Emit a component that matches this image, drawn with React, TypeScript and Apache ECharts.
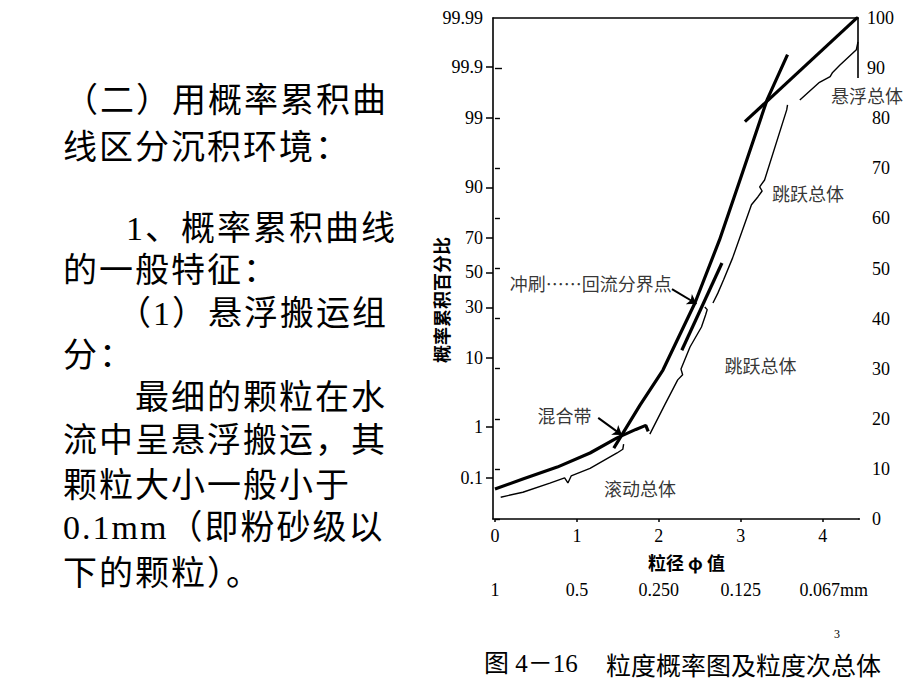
import React, { useEffect, useRef } from "react";
import * as echarts from "echarts";

// ---------- data ----------
const phiTicks = [0, 1, 2, 3, 4];
const mmLabels = ["1", "0.5", "0.250", "0.125", "0.067mm"];
const probTickLabels = ["0.1", "1", "10", "30", "50", "70", "90", "99", "99.9", "99.99"];
const rightLowerTicks = [0, 10, 20, 30, 40, 50, 60, 70, 80];
const rightUpperTicks = [90, 100];

// thick segments (phi, cumulative %)
const rollingPhi = [0.0, 0.34, 0.76, 1.16, 1.49, 1.72, 1.84, 1.87];
const rollingPct = [0.056, 0.094, 0.17, 0.33, 0.64, 0.91, 1.07, 0.84];
const saltationPhi = [1.45, 1.77, 2.05, 2.44, 2.74, 2.99, 3.32, 3.57];
const saltationPct = [0.41, 2.3, 7.1, 32.3, 68.8, 91.8, 99.53, 99.948];
const lowerSaltExtPhi = [2.28, 2.77];
const lowerSaltExtPct = [12.1, 55.7];
const suspensionPhi = [3.05, 4.43];
const suspensionPct = [98.84, 99.994];

// thin population braces
const rollingBracePhi = [0.07, 0.34, 0.67, 0.85, 0.89, 0.93, 1.16, 1.49, 1.56, 1.57];
const rollingBracePct = [0.036, 0.047, 0.076, 0.1, 0.077, 0.11, 0.16, 0.33, 0.39, 0.49];
const lowerSaltBracePhi = [1.89, 2.07, 2.23, 2.29, 2.27, 2.38, 2.52, 2.57, 2.59, 2.56];
const lowerSaltBracePct = [0.75, 2.3, 5.3, 6.2, 7.3, 13.1, 20.6, 26.1, 28.8, 30.2];
const upperSaltBracePhi = [2.66, 2.72, 2.79, 2.9, 3.13, 3.21, 3.26, 3.23, 3.29, 3.56, 3.57];
const upperSaltBracePct = [32.3, 37.8, 45.6, 58.7, 84.6, 87.3, 89.0, 90.1, 91.8, 99.28, 99.42];
const suspBracePhi = [3.72, 3.96, 4.09, 4.12, 4.21, 4.41, 4.43];
const suspBracePct = [99.53, 99.79, 99.84, 99.87, 99.91, 99.96, 99.974];

// arrows: [phiFrom, pctFrom, phiTo, pctTo]
const arrowBreak = [2.16, 40.1, 2.46, 31.9];
const arrowMix = [1.26, 1.43, 1.55, 0.72];

// annotation labels
const noteTexts = ["冲刷……回流分界点", "混合带", "滚动总体", "跳跃总体", "跳跃总体", "悬浮总体"];
const notePhi = [1.17, 0.85, 1.77, 3.24, 3.82, 4.54];
const notePct = [43.7, 1.58, 0.058, 8.2, 88.5, 99.63];

const leftLines = [
  "（二）用概率累积曲",
  "线区分沉积环境：",
  "1、概率累积曲线",
  "的一般特征：",
  "（1）悬浮搬运组",
  "分：",
  "最细的颗粒在水",
  "流中呈悬浮搬运，其",
  "颗粒大小一般小于",
  "0.1mm（即粉砂级以",
  "下的颗粒）。",
];
const leftX = [64, 63, 126, 63, 117, 63, 135, 63, 63, 63, 63];
const leftY = [100, 147, 228, 270, 313, 355, 397, 440, 485, 527, 573];

// ---------- helpers ----------
function probit(p: number): number {
  const a = [-3.969683028665376e1, 2.209460984245205e2, -2.759285104469687e2, 1.38357751867269e2, -3.066479806614716e1, 2.506628277459239];
  const b = [-5.447609879822406e1, 1.615858368580409e2, -1.556989798598866e2, 6.680131188771972e1, -1.328068155288572e1];
  const c = [-7.784894002430293e-3, -3.223964580411365e-1, -2.400758277161838, -2.549732539343734, 4.374664141464968, 2.938163982698783];
  const d = [7.784695709041462e-3, 3.224671290700398e-1, 2.445134137142996, 3.75440814571976];
  const pl = 0.02425;
  if (p < pl) {
    const q = Math.sqrt(-2 * Math.log(p));
    return (((((c[0] * q + c[1]) * q + c[2]) * q + c[3]) * q + c[4]) * q + c[5]) / ((((d[0] * q + d[1]) * q + d[2]) * q + d[3]) * q + 1);
  }
  if (p > 1 - pl) {
    const q = Math.sqrt(-2 * Math.log(1 - p));
    return -(((((c[0] * q + c[1]) * q + c[2]) * q + c[3]) * q + c[4]) * q + c[5]) / ((((d[0] * q + d[1]) * q + d[2]) * q + d[3]) * q + 1);
  }
  const q = p - 0.5;
  const r = q * q;
  return ((((((a[0] * r + a[1]) * r + a[2]) * r + a[3]) * r + a[4]) * r + a[5]) * q) / (((((b[0] * r + b[1]) * r + b[2]) * r + b[3]) * r + b[4]) * r + 1);
}
const zp = (pct: number) => probit(pct / 100);
const pairs = (xs: number[], ps: number[]) => xs.map((x, i) => [x, zp(ps[i])]);

const X_MIN = -0.024;
const X_MAX = 4.43;
const Y_MIN = -3.71;
const Y_MAX = 3.83; // top border of the scanned probability paper (labelled 99.99)
const X_RIGHT_AXIS = 4.51;

const INK = "#000";
const NUM = '"Liberation Serif", serif';
const CJK = '"Noto Sans CJK SC", sans-serif';
const MIXED = '"Liberation Serif", "Noto Sans CJK SC", serif';

export default function App() {
  const ref = useRef<HTMLDivElement>(null);

  useEffect(() => {
    if (!ref.current) return;
    const chart = echarts.init(ref.current, undefined, { renderer: "svg" });

    const probTickValues = probTickLabels.map((l, i) =>
      i === probTickLabels.length - 1 ? Y_MAX : zp(parseFloat(l))
    );
    const probFormatter = (v: number) => {
      let best = 0;
      probTickValues.forEach((t, i) => {
        if (Math.abs(t - v) < Math.abs(probTickValues[best] - v)) best = i;
      });
      return probTickLabels[best];
    };

    const thick = (data: number[][]) => ({
      type: "line",
      data,
      showSymbol: false,
      symbol: "none",
      lineStyle: { color: INK, width: 3.2 },
      silent: true,
      z: 3,
    });
    const thin = (data: number[][]) => ({
      type: "line",
      data,
      showSymbol: false,
      symbol: "none",
      clip: false,
      lineStyle: { color: INK, width: 1.4 },
      silent: true,
      z: 2,
    });

    const numLabel = { color: INK, fontFamily: NUM, fontSize: 18 };

    const option: any = {
      animation: false,
      backgroundColor: "#fff",
      grid: { left: 493, top: 18, right: 62, bottom: 171, containLabel: false },
      xAxis: [
        {
          type: "value",
          min: X_MIN,
          max: X_MAX,
          position: "bottom",
          axisLine: { show: true, onZero: false, lineStyle: { color: INK, width: 1.6 } },
          axisTick: { show: true, inside: false, customValues: phiTicks, length: 3, lineStyle: { color: INK, width: 1.5 } },
          axisLabel: { show: true, customValues: phiTicks, margin: 8, ...numLabel },
          splitLine: { show: false },
        },
        {
          type: "value",
          min: X_MIN,
          max: X_MAX,
          position: "bottom",
          offset: 54,
          axisLine: { show: false },
          axisTick: { show: false },
          axisLabel: {
            show: true,
            customValues: phiTicks,
            ...numLabel,
            formatter: (v: number) => {
              const i = phiTicks.indexOf(Math.round(v));
              const s = mmLabels[i] ?? "";
              return i === phiTicks.length - 1 ? "{m|" + s + "}" : s;
            },
            rich: { m: { padding: [0, 0, 0, 22], ...numLabel } },
          },
          splitLine: { show: false },
        },
        {
          type: "value",
          min: X_MIN,
          max: X_MAX,
          position: "top",
          axisLine: { show: true, onZero: false, lineStyle: { color: INK, width: 1.6 } },
          axisTick: { show: false },
          axisLabel: { show: false },
          splitLine: { show: false },
        },
      ],
      yAxis: [
        {
          type: "value",
          min: Y_MIN,
          max: Y_MAX,
          position: "left",
          axisLine: { show: true, onZero: false, lineStyle: { color: INK, width: 1.6 } },
          axisTick: {
            show: true,
            inside: false,
            customValues: probTickValues.slice(0, probTickValues.length - 1),
            length: 7,
            lineStyle: { color: INK, width: 1.5 },
          },
          axisLabel: {
            show: true,
            customValues: probTickValues,
            formatter: probFormatter,
            margin: 10,
            ...numLabel,
          },
          splitLine: { show: false },
        },
        {
          type: "value",
          min: 0,
          max: 100,
          position: "right",
          offset: 7,
          axisLine: { show: false },
          axisTick: { show: true, inside: false, customValues: rightLowerTicks, length: 5, lineStyle: { color: INK, width: 1.4 } },
          axisLabel: { show: true, customValues: rightLowerTicks, margin: 7, ...numLabel },
          splitLine: { show: false },
        },
        {
          type: "value",
          min: 0,
          max: 100,
          position: "right",
          offset: 0,
          axisLine: { show: false },
          axisTick: { show: true, inside: false, customValues: [rightUpperTicks[0]], length: 7, lineStyle: { color: INK, width: 1.4 } },
          axisLabel: { show: true, customValues: rightUpperTicks, margin: 9, ...numLabel },
          splitLine: { show: false },
        },
      ],
      graphic: [
        {
          type: "text",
          left: 648,
          top: 553,
          style: { text: "粒径 φ 值", fill: INK, font: "bold 18px " + CJK },
        },
        {
          type: "text",
          x: 441,
          y: 300,
          rotation: Math.PI / 2,
          style: {
            text: "概率累积百分比",
            fill: INK,
            font: "bold 18px " + CJK,
            textAlign: "center",
            textVerticalAlign: "middle",
          },
        },
        {
          type: "text",
          left: 484,
          top: 651,
          style: { text: "图 4－16", fill: INK, font: "25px " + MIXED },
        },
        {
          type: "text",
          left: 606,
          top: 651,
          style: { text: "粒度概率图及粒度次总体", fill: INK, font: "25px " + CJK },
        },
        {
          type: "text",
          left: 834,
          top: 628,
          style: { text: "3", fill: INK, font: "12px " + MIXED },
        },
      ],
      series: [
        thick(pairs(rollingPhi, rollingPct)),
        thick(pairs(saltationPhi, saltationPct)),
        thick(pairs(lowerSaltExtPhi, lowerSaltExtPct)),
        thick(pairs(suspensionPhi, suspensionPct)),
        thin(pairs(rollingBracePhi, rollingBracePct)),
        thin(pairs(lowerSaltBracePhi, lowerSaltBracePct)),
        thin(pairs(upperSaltBracePhi, upperSaltBracePct)),
        thin(pairs(suspBracePhi, suspBracePct)),
        // split right-hand axis lines (0–80 and 90–100 parts)
        {
          type: "line",
          yAxisIndex: 1,
          data: [[X_MAX, 0], [X_RIGHT_AXIS, 0], [X_RIGHT_AXIS, rightLowerTicks[rightLowerTicks.length - 1]]],
          showSymbol: false,
          symbol: "none",
          clip: false,
          lineStyle: { color: INK, width: 1.6 },
          silent: true,
        },
        {
          type: "line",
          yAxisIndex: 2,
          data: [[X_MAX, 100], [X_MAX, 88]],
          showSymbol: false,
          symbol: "none",
          clip: false,
          lineStyle: { color: INK, width: 1.6 },
          silent: true,
        },
        {
          type: "lines",
          coordinateSystem: "cartesian2d",
          symbol: ["none", "arrow"],
          symbolSize: 9,
          lineStyle: { color: INK, width: 2, opacity: 1 },
          silent: true,
          z: 4,
          data: [arrowBreak, arrowMix].map((a) => ({
            coords: [
              [a[0], zp(a[1])],
              [a[2], zp(a[3])],
            ],
          })),
        },
        {
          type: "scatter",
          symbol: "circle",
          symbolSize: 1,
          clip: false,
          silent: true,
          itemStyle: { color: "rgba(0,0,0,0)" },
          label: {
            show: true,
            position: "inside",
            formatter: (p: any) => p.name,
            color: INK,
            fontFamily: CJK,
            fontSize: 18,
          },
          data: noteTexts.map((t, i) => ({ name: t, value: [notePhi[i], zp(notePct[i])] })),
          z: 5,
        },
      ],
    };

    chart.setOption(option);
    return () => chart.dispose();
  }, []);

  return (
    <div style={{ position: "fixed", left: 0, top: 0, width: 920, height: 690, background: "#fff", overflow: "hidden" }}>
      <div ref={ref} style={{ position: "absolute", left: 0, top: 0, width: 920, height: 690 }} />
      {leftLines.map((t, i) => (
        <div
          key={i}
          style={{
            position: "absolute",
            left: leftX[i],
            top: leftY[i] - 21.5,
            height: 43,
            lineHeight: "43px",
            fontSize: 34,
            letterSpacing: "2px",
            fontFamily: MIXED,
            color: "#000",
            whiteSpace: "nowrap",
          }}
        >
          {t}
        </div>
      ))}
    </div>
  );
}
